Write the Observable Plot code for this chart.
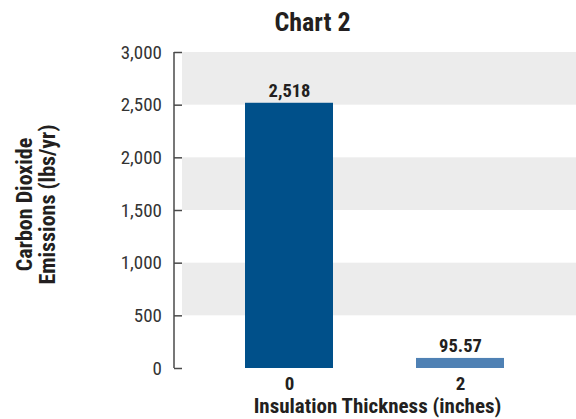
<!DOCTYPE html>
<html>
<head>
<meta charset="utf-8">
<script src="https://cdn.jsdelivr.net/npm/d3@7"></script>
<script src="https://cdn.jsdelivr.net/npm/@observablehq/plot@0.6"></script>
<style>
  html, body { margin: 0; padding: 0; background: #fff; }
  #chart svg { display: block; }
</style>
</head>
<body>
<div id="chart"></div>
<script>
// Insulation thickness categories and the yearly CO2 emitted for each
const thickness = ["0", "2"];
const emissions = [2518, 95.57];
const yTicks = [0, 500, 1000, 1500, 2000, 2500, 3000];
// lower edge of each shaded band (each band covers 500 lbs/yr)
const bandStarts = [500, 1500, 2500];

const chartTitle = "Chart 2";
const xTitle = "Insulation Thickness (inches)";
const yTitleLines = ["Carbon Dioxide", "Emissions (lbs/yr)"];

const rows = thickness.map((t, i) => ({thickness: t, emissions: emissions[i]}));

const font = `"Roboto Condensed", Roboto, sans-serif`;
const ink = "#231f20";

// vertical axis line drawn a few pixels left of the plotting area
const axisLine = (index, scales, values, dims) => {
  const x = dims.marginLeft - 8;
  return d3.create("svg:line")
    .attr("x1", x).attr("x2", x)
    .attr("y1", scales.y(d3.max(yTicks))).attr("y2", scales.y(0))
    .attr("stroke", "#4a4a4a")
    .attr("stroke-width", 1.5)
    .node();
};

const chart = Plot.plot({
  width: 576,
  height: 419,
  marginTop: 52,
  marginBottom: 51,
  marginLeft: 182,
  marginRight: 0,
  style: {fontFamily: font, fontStretch: "condensed", color: ink, background: "#fff"},
  x: {domain: thickness, paddingInner: 0.485, paddingOuter: 0.394, align: 0.467, label: null},
  y: {domain: [0, 3000], label: null},
  color: {domain: thickness, range: ["#00508a", "#4f81b4"]},
  marks: [
    Plot.rectY(bandStarts, {y1: d => d, y2: d => d + 500, fill: "#ececec"}),
    Plot.barY(rows, {x: "thickness", y: "emissions", fill: "thickness"}),
    Plot.text(rows, {
      x: "thickness", y: "emissions", text: d => d3.format(",")(d.emissions),
      lineAnchor: "bottom", dy: -6.5, fontSize: 18.5, fontWeight: "bold", fill: ink
    }),
    Plot.axisY(yTicks, {
      tickSize: 8, tickPadding: 12.5, tickFormat: d3.format(","),
      fontSize: 19, stroke: "#4a4a4a", strokeWidth: 1.5, fill: "#333", label: null
    }),
    axisLine,
    Plot.axisX({tickSize: 0, tickPadding: 7.5, fontSize: 19, fontWeight: "bold", fill: ink, label: null}),
    Plot.text([xTitle], {
      frameAnchor: "bottom", lineAnchor: "bottom", dy: 44.5, dx: -2,
      fontSize: 21, fontWeight: "bold", fill: ink
    }),
    Plot.text([yTitleLines[0]], {
      frameAnchor: "left", textAnchor: "middle", rotate: -90, dx: -158, dy: -6,
      fontSize: 22, fontWeight: "bold", fill: ink
    }),
    Plot.text([yTitleLines[1]], {
      frameAnchor: "left", textAnchor: "middle", rotate: -90, dx: -135, dy: -6,
      fontSize: 22, fontWeight: "bold", fill: ink
    }),
    Plot.text([chartTitle], {
      frameAnchor: "top-left", textAnchor: "middle", lineAnchor: "bottom", dx: 130, dy: -21.5,
      fontSize: 26, fontWeight: "bold", fill: ink
    })
  ]
});

document.getElementById("chart").appendChild(chart);
</script>
</body>
</html>
